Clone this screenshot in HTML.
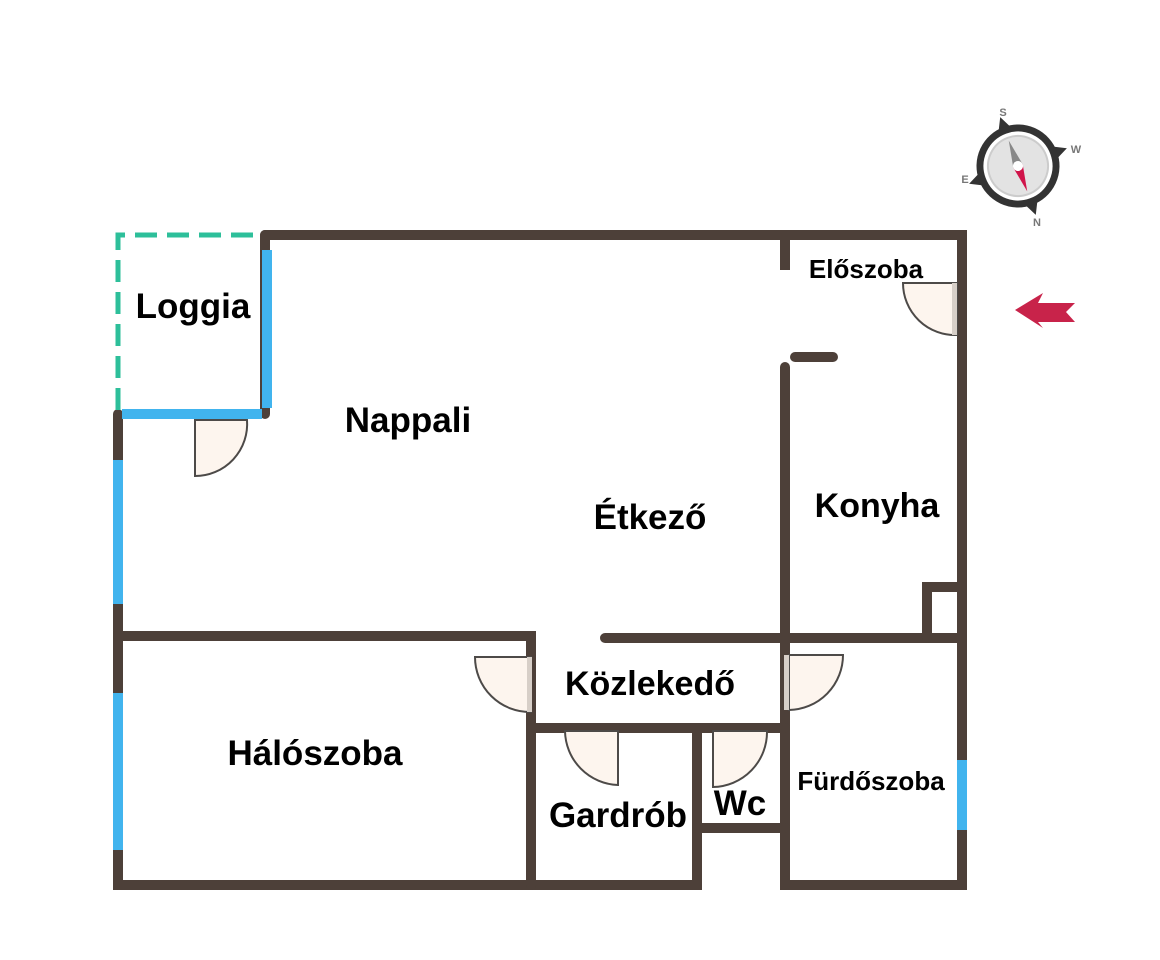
<!DOCTYPE html>
<html><head><meta charset="utf-8"><style>
html,body{margin:0;padding:0;background:#fff}
svg{display:block}
text{font-family:"Liberation Sans",sans-serif;font-weight:bold;fill:#000;text-anchor:middle}
</style></head><body>
<svg width="1160" height="960" viewBox="0 0 1160 960" xmlns="http://www.w3.org/2000/svg">
<g stroke="#4d4039" stroke-width="10" stroke-linecap="round" fill="none">
<path d="M265 235 H962 V885 H785 V638"/>
<path d="M785 367 V885"/>
<path d="M785 240 V270" stroke-linecap="butt"/>
<path d="M795 357 H833"/>
<path d="M605 638 H962"/>
<path d="M927 638 V587 H962"/>
<path d="M118 414 V885 H697 V728"/>
<path d="M118 636 H531 V885"/>
<path d="M531 728 H785"/>
<path d="M697 828 H785"/>
<path d="M265 235 V414"/>
</g>
<g stroke="#41b4ee" stroke-width="10" fill="none">
<path d="M267 250 V408"/>
<path d="M122 414 H262"/>
<path d="M118 460 V604"/>
<path d="M118 693 V850"/>
<path d="M962 760 V830"/>
</g>
<path d="M118 410 V235 H262" stroke="#2dbf9a" stroke-width="5" fill="none" stroke-dasharray="22,10"/>
<g fill="#fdf5ee" stroke="#4d4a48" stroke-width="2">
<path d="M195 420 V476 A52 52 0 0 0 247 420 Z"/>
<path d="M957 283 H903 A52 52 0 0 0 957 335 Z"/>
<path d="M531 657 H475 A55 55 0 0 0 531 712 Z"/>
<path d="M789 655 H843 A55 55 0 0 1 789 710 Z"/>
<path d="M565 731 A55 55 0 0 0 618 785 V731 Z"/>
<path d="M713 731 V787 A55 55 0 0 0 767 731 Z"/>
</g>
<g fill="#d7cfc8">
<rect x="527" y="657" width="5" height="55"/><rect x="784" y="655" width="5" height="55"/>
<rect x="952" y="283" width="5" height="52"/>
</g>
<text x="193" y="318" font-size="35">Loggia</text>
<text x="408" y="432" font-size="35">Nappali</text>
<text x="650" y="529" font-size="35">Étkező</text>
<text x="877" y="517" font-size="34">Konyha</text>
<text x="866" y="278" font-size="26">Előszoba</text>
<text x="650" y="695" font-size="34">Közlekedő</text>
<text x="315" y="765" font-size="35">Hálószoba</text>
<text x="618" y="827" font-size="35">Gardrób</text>
<text x="740" y="815" font-size="35">Wc</text>
<text x="871" y="790" font-size="26">Fürdőszoba</text>
<path d="M1015 310 L1043 293 L1038 303 L1075 303 L1066 312 L1075 322 L1038 322 L1043 328 Z" fill="#c8234a"/>
<g transform="translate(1018 166) rotate(-20)">
<path d="M0 -52 L8 -36 L-8 -36 Z M0 52 L8 36 L-8 36 Z M-52 0 L-36 8 L-36 -8 Z M52 0 L36 8 L36 -8 Z" fill="#333"/>
<circle r="38" fill="#fff" stroke="#333" stroke-width="7"/>
<circle r="30" fill="#e3e3e3" stroke="#ccc" stroke-width="2"/>
<path d="M0 -27 L5 0 L-5 0 Z" fill="#888"/>
<path d="M0 27 L5 0 L-5 0 Z" fill="#d0144a"/>
<circle r="5" fill="#fff"/>
</g>
<g>
<text x="1003" y="116" style="fill:#777" font-size="11">S</text>
<text x="1076" y="153" style="fill:#777" font-size="11">W</text>
<text x="965" y="183" style="fill:#777" font-size="11">E</text>
<text x="1037" y="226" style="fill:#777" font-size="11">N</text>
</g>
</svg>
</body></html>
